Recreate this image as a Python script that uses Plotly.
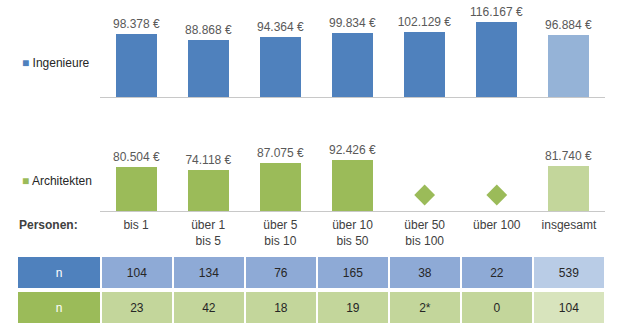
import plotly.graph_objects as go

# ---------------- data ----------------
categories = ["bis 1", "über 1<br>bis 5", "über 5<br>bis 10", "über 10<br>bis 50",
              "über 50<br>bis 100", "über 100", "insgesamt"]
ing_values = [98378, 88868, 94364, 99834, 102129, 116167, 96884]
arch_values = [80504, 74118, 87075, 92426, None, None, 81740]
ing_n = ["104", "134", "76", "165", "38", "22", "539"]
arch_n = ["23", "42", "18", "19", "2*", "0", "104"]
row_label = "n"
series_names = ["Ingenieure", "Architekten"]

# ---------------- style ----------------
W, H = 623, 333
FONT = "Liberation Sans, Arial, sans-serif"
TXT = "#404040"
BLUE, BLUE_L = "#4F81BD", "#95B3D7"
GREEN, GREEN_L = "#9BBB59", "#C3D69B"
T_BLUE, T_BLUE_L = "#8EAAD6", "#B9CCE6"
T_GREEN, T_GREEN_L = "#C3D69B", "#D8E4BD"
PLACEHOLDER_LEVEL = 29000  # height at which the "not shown" diamond is drawn
FS = 12


def fmt(v):
    return f"{v:,}".replace(",", ".") + " €"


def px_x(p):
    return p / W


def px_y(p):
    return (H - p) / H


n = len(categories)
xs = list(range(n))

fig = go.Figure()

# top chart: Ingenieure
fig.add_trace(go.Bar(
    x=xs, y=ing_values, width=0.57,
    marker=dict(color=[BLUE] * (n - 1) + [BLUE_L], line=dict(width=0)),
    text=[fmt(v) for v in ing_values], textposition="outside",
    textfont=dict(family=FONT, size=FS, color="#595959"), constraintext="none",
    cliponaxis=False, showlegend=False, xaxis="x", yaxis="y",
))

# bottom chart: Architekten
fig.add_trace(go.Bar(
    x=xs, y=arch_values, width=0.57,
    marker=dict(color=[GREEN] * (n - 1) + [GREEN_L], line=dict(width=0)),
    text=[fmt(v) if v is not None else "" for v in arch_values], textposition="outside",
    textfont=dict(family=FONT, size=FS, color="#595959"), constraintext="none",
    cliponaxis=False, showlegend=False, xaxis="x2", yaxis="y2",
))
miss = [i for i, v in enumerate(arch_values) if v is None]
fig.add_trace(go.Scatter(
    x=miss, y=[PLACEHOLDER_LEVEL] * len(miss), mode="markers",
    marker=dict(symbol="diamond", size=16, color=GREEN, line=dict(width=0)),
    showlegend=False, xaxis="x2", yaxis="y2", hoverinfo="skip",
))

# table rows drawn as bars on a third axis pair
label_w = 84 / 72
col_x = [-0.5 - label_w / 2] + xs
col_w = [label_w] + [1] * n
gap_x = 2 / 72
row_pitch = 35
rows = [
    ([row_label] + ing_n, [BLUE] + [T_BLUE] * (n - 1) + [T_BLUE_L], 1),
    ([row_label] + arch_n, [GREEN] + [T_GREEN] * (n - 1) + [T_GREEN_L], 0),
]
for texts, colors, r in rows:
    fig.add_trace(go.Bar(
        x=col_x, y=[31 / row_pitch] * len(col_x),
        base=[r + 2 / row_pitch] * len(col_x),
        width=[w - gap_x for w in col_w],
        marker=dict(color=colors, line=dict(width=0)),
        text=texts, textposition="inside", insidetextanchor="middle", textangle=0,
        textfont=dict(family=FONT, size=FS,
                      color=["white"] + ["#262626"] * n),
        constraintext="none",
        showlegend=False, xaxis="x3", yaxis="y3", hoverinfo="skip",
    ))

axis_common = dict(showgrid=False, zeroline=False, fixedrange=True)
fig.update_layout(
    width=W, height=H, autosize=False,
    margin=dict(l=0, r=0, t=0, b=0),
    paper_bgcolor="white", plot_bgcolor="white",
    font=dict(family=FONT, size=FS, color=TXT),
    bargap=0, barmode="overlay",
    xaxis=dict(domain=[px_x(100), px_x(605)], range=[-0.5, 6.5], anchor="y",
               showline=True, linecolor="#C8C8C8", linewidth=1,
               showticklabels=False, ticks="", **axis_common),
    yaxis=dict(domain=[px_y(97.3), 1.0], range=[0, 97.3 * 1552], anchor="x",
               visible=False, **axis_common),
    xaxis2=dict(domain=[px_x(100), px_x(605)], range=[-0.5, 6.5], anchor="y2",
                showline=True, linecolor="#C8C8C8", linewidth=1,
                tickmode="array", tickvals=xs, ticktext=categories, ticks="",
                tickfont=dict(family=FONT, size=FS, color=TXT),
                ticklabelstandoff=3, **axis_common),
    yaxis2=dict(domain=[px_y(211), px_y(115)], range=[0, 96 * 1815], anchor="x2",
                visible=False, **axis_common),
    xaxis3=dict(domain=[px_x(17), px_x(605)], range=[-0.5 - label_w, 6.5], anchor="y3",
                visible=False, **axis_common),
    yaxis3=dict(domain=[px_y(325), px_y(255)], range=[0, 2], anchor="x3",
                visible=False, **axis_common),
)

# legend-like labels and row header
legend_items = [(series_names[0], BLUE, 63), (series_names[1], GREEN, 181)]
for name, col, yy in legend_items:
    fig.add_annotation(
        x=px_x(20), y=px_y(yy), xref="paper", yref="paper",
        xanchor="left", yanchor="middle", showarrow=False,
        text=f"<span style='color:{col}'>■</span> {name}",
        font=dict(family=FONT, size=FS, color="#262626"),
    )
fig.add_annotation(
    x=px_x(17), y=px_y(225), xref="paper", yref="paper",
    xanchor="left", yanchor="middle", showarrow=False,
    text="<b>Personen:</b>", font=dict(family=FONT, size=FS, color=TXT),
)

fig.write_html("out.html")
